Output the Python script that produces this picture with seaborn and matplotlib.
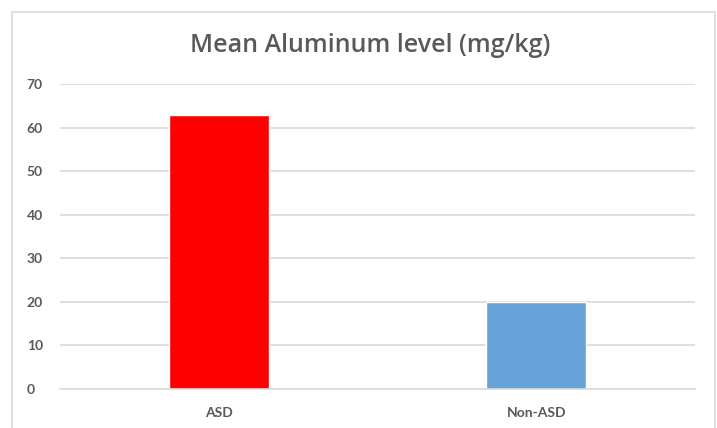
import matplotlib
matplotlib.use("Agg")
import matplotlib.pyplot as plt
from matplotlib.patches import Rectangle
import seaborn as sns
import pandas as pd

# data
groups = ["ASD", "Non-ASD"]
aluminum = [63, 20]
bar_colors = ["#FF0000", "#67A3D9"]
y_ticks = [0, 10, 20, 30, 40, 50, 60, 70]

df = pd.DataFrame({"group": groups, "value": aluminum})

sns.set_style("white")
plt.rcParams["font.family"] = ["Lato", "DejaVu Sans"]

fig = plt.figure(figsize=(7.17, 4.28), dpi=100)
ax = fig.add_axes([60 / 717, 39 / 428, 635 / 717, 305 / 428])

sns.barplot(data=df, x="group", y="value", hue="group", palette=bar_colors,
            width=0.315, legend=False, ax=ax, saturation=1)

ax.set_ylim(0, 70)
ax.set_xlim(-0.5, 1.5)
ax.set_yticks(y_ticks)
ax.yaxis.grid(True, color="#D9D9D9", linewidth=1.2)
ax.set_axisbelow(True)
for s in ["top", "right", "left"]:
    ax.spines[s].set_visible(False)
ax.spines["bottom"].set_color("#D9D9D9")
ax.spines["bottom"].set_linewidth(1.2)

ax.set_xlabel("")
ax.set_ylabel("")
ax.tick_params(axis="both", length=0, labelsize=10, labelcolor="#595959")
ax.tick_params(axis="y", pad=24)
ax.tick_params(axis="x", pad=13)
for lbl in ax.get_xticklabels() + ax.get_yticklabels():
    lbl.set_fontweight("bold")
for lbl in ax.get_yticklabels():
    lbl.set_horizontalalignment("left")

fig.text(370 / 717, 1 - 46 / 428, "Mean Aluminum level (mg/kg)", ha="center", va="center",
         fontsize=18, color="#595959", fontweight="semibold",
         family=["Open Sans", "DejaVu Sans"])

# chart area border
fig.patches.append(Rectangle((12 / 717, -0.1), 703 / 717, (428 - 12) / 428 + 0.1,
                             transform=fig.transFigure, fill=False,
                             edgecolor="#D9D9D9", linewidth=1.2))

fig.savefig("out.png", dpi=100)
